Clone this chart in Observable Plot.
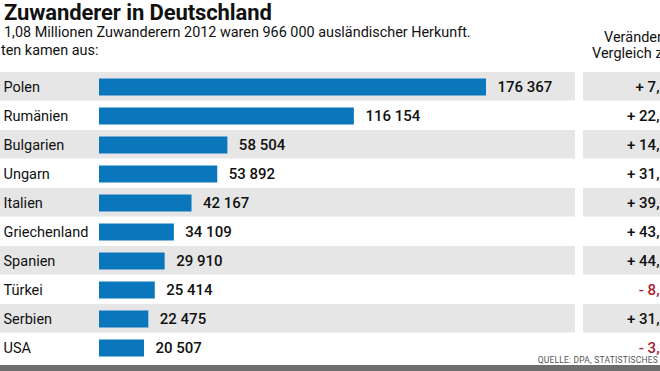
<!DOCTYPE html>
<html>
<head>
<meta charset="utf-8">
<script src="https://cdn.jsdelivr.net/npm/d3@7"></script>
<script src="https://cdn.jsdelivr.net/npm/@observablehq/plot@0.6"></script>
<style>
  html, body { margin: 0; padding: 0; background: #fff; }
  #wrap { position: relative; width: 660px; height: 371px; overflow: hidden; font-family: Roboto, "Open Sans", sans-serif; color: #111; }
  .abs { position: absolute; white-space: nowrap; }
  #title { left: 4px; top: 2px; font-size: 22px; line-height: 22px; font-weight: 700; letter-spacing: -0.1px; }
  #sub1 { left: 4px; top: 24px; font-size: 14.4px; }
  #sub2 { left: 1px; top: 42px; font-size: 14.4px; }
  #h1 { left: 604px; top: 29px; font-size: 14.5px; }
  #h2 { left: 592px; top: 45px; font-size: 14.5px; }
  #src { right: 2px; top: 355px; font-size: 8.5px; color: #555; letter-spacing: 0.2px; }
  #foot { left: 0; top: 365px; width: 660px; height: 6px; background: #6e6e6e; }
  #left { left: 0; top: 69px; }
  #right { left: 583px; top: 69px; }
</style>
</head>
<body>
<div id="wrap">
  <div class="abs" id="title">Zuwanderer in Deutschland</div>
  <div class="abs" id="sub1">1,08 Millionen Zuwanderern 2012 waren 966 000 ausländischer Herkunft.</div>
  <div class="abs" id="sub2">ten kamen aus:</div>
  <div class="abs" id="h1">Veränder</div>
  <div class="abs" id="h2">Vergleich z</div>
  <div class="abs" id="left"></div>
  <div class="abs" id="right"></div>
  <div class="abs" id="src">QUELLE: DPA, STATISTISCHES</div>
  <div class="abs" id="foot"></div>
</div>
<script>
const countries = ["Polen", "Rumänien", "Bulgarien", "Ungarn", "Italien", "Griechenland", "Spanien", "Türkei", "Serbien", "USA"];
const values = [176367, 116154, 58504, 53892, 42167, 34109, 29910, 25414, 22475, 20507];
const changes = [7, 22, 14, 31, 39, 43, 44, -8, 31, -3];

const data = countries.map((c, i) => ({country: c, value: values[i], change: changes[i], shade: i % 2 === 0}));
const shaded = data.filter(d => d.shade);
const fmt = v => d3.format(",")(v).replace(/,/g, " ");
const font = "Roboto, 'Open Sans', sans-serif";

const left = Plot.plot({
  width: 575,
  height: 296,
  margin: 0,
  style: {fontFamily: font, background: "transparent"},
  x: {domain: [0, 176367], range: [99, 486], axis: null},
  y: {domain: countries, padding: 0, axis: null},
  marks: [
    Plot.cell(shaded, {y: "country", fill: "#e6e6e6", insetBottom: 0.5}),
    Plot.barX(data, {x: "value", y: "country", fill: "#0a77bd", insetTop: 6.5, insetBottom: 5.5}),
    Plot.text(data, {y: "country", text: "country", frameAnchor: "left", textAnchor: "start", dx: 3, fontSize: 14.5, fill: "#111"}),
    Plot.text(data, {x: "value", y: "country", text: d => fmt(d.value), textAnchor: "start", dx: 11, fontSize: 15, fontWeight: 500, fill: "#111"})
  ]
});
document.getElementById("left").appendChild(left);

const right = Plot.plot({
  width: 77,
  height: 296,
  margin: 0,
  style: {fontFamily: font, background: "transparent"},
  y: {domain: countries, padding: 0, axis: null},
  marks: [
    Plot.cell(shaded, {y: "country", fill: "#e6e6e6", insetBottom: 0.5}),
    Plot.text(data, {y: "country", text: d => (d.change < 0 ? "- " : "+ ") + Math.abs(d.change) + ",", frameAnchor: "right", textAnchor: "end", dx: -1, fontSize: 15, fontWeight: 500, fill: d => d.change < 0 ? "#a8232c" : "#111"})
  ]
});
document.getElementById("right").appendChild(right);
</script>
</body>
</html>
